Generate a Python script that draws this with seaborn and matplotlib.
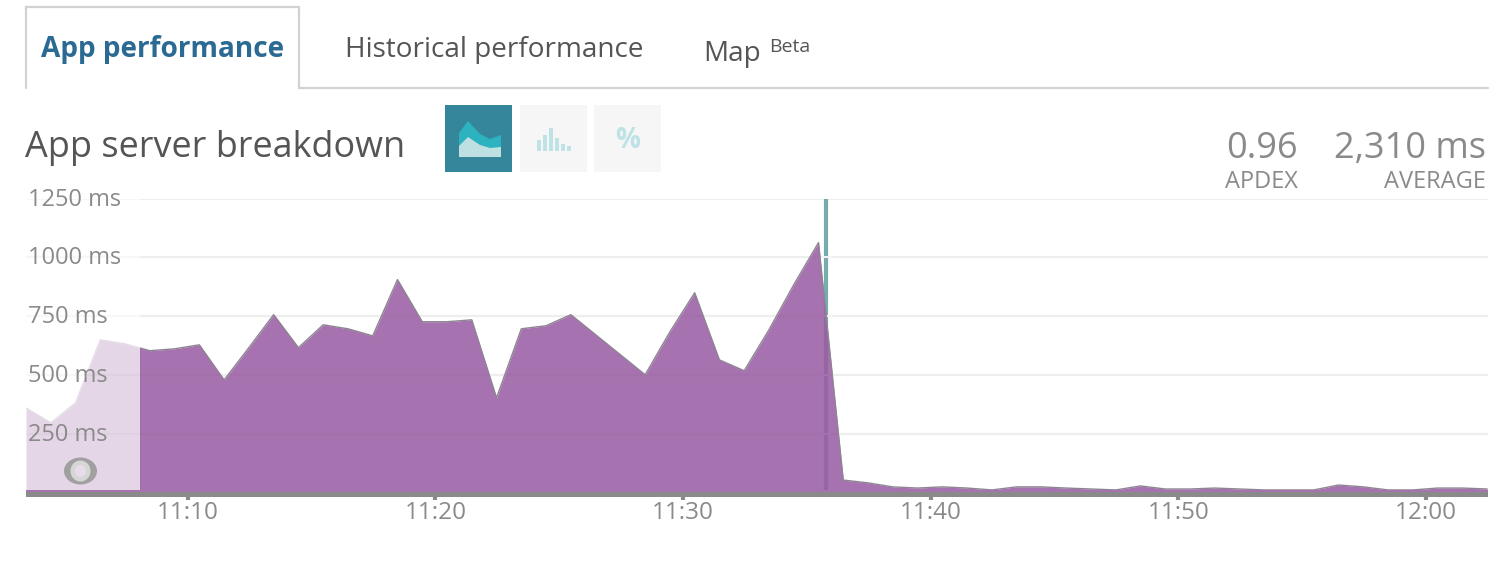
import matplotlib
matplotlib.use('Agg')
import matplotlib.dates as mdates
import matplotlib.pyplot as plt
import pandas as pd
import seaborn as sns
from matplotlib.patches import Ellipse, Polygon, Rectangle
from matplotlib.transforms import ScaledTranslation

# Values, one sample per minute
ms_values = [361, 298, 383, 650, 633, 604, 612, 629, 480, 617,
             757, 617, 714, 697, 667, 906, 727, 727, 735, 404,
             697, 710, 757, 672, 587, 502, 684, 850, 565, 519,
             693, 884, 1063, 55, 43, 26, 21, 26, 21, 13,
             26, 26, 21, 17, 13, 30, 17, 17, 21, 17,
             13, 13, 13, 34, 26, 13, 13, 21, 21, 17]
y_ticks = [250, 500, 750, 1000, 1250]
y_labels = ['250 ms', '500 ms', '750 ms', '1000 ms', '1250 ms']
x_ticks = ['11:10', '11:20', '11:30', '11:40', '11:50', '12:00']
tabs = ['App performance', 'Historical performance', 'Map']
icon_bars = [11, 16, 23, 13, 7, 5]

W, H = 1512, 564
PURPLE = '#995DA3'
GREY = '#8A8A8A'
TEXT = '#555555'

sns.set_theme(style='white')
plt.rcParams['font.family'] = ['Open Sans', 'DejaVu Sans']

times = pd.date_range('2020-01-01 11:03:28', periods=len(ms_values), freq='min')
df = pd.DataFrame({'time': times, 'ms': ms_values})

fig = plt.figure(figsize=(W / 100, H / 100), dpi=100)
left, right, top, bottom = 26, 1488, 198.5, 493
ax = fig.add_axes([left / W, 1 - bottom / H, (right - left) / W, (bottom - top) / H])

# Selected window and the marker
t_sel = mdates.date2num(pd.Timestamp('2020-01-01 11:08:05'))
t_mark = pd.Timestamp('2020-01-01 11:35:45')
t0 = mdates.date2num(times[0])
t_end = mdates.date2num(pd.Timestamp('2020-01-01 12:02:30'))

# Grid sits under the translucent area, washed out left of the selection
ax.hlines(y_ticks, t0, t_sel, color='#F7F7F7', lw=1.6, zorder=0.6)
ax.hlines(y_ticks, t_sel, t_end, color='#EEEEEE', lw=1.6, zorder=0.6)

ax.vlines(t_mark, 8, 1250, color='#76ACAD', lw=3, zorder=0.8)
for v in [250, 500, 750, 1000]:
    ax.plot([t_mark - pd.Timedelta(seconds=15), t_mark + pd.Timedelta(seconds=15)], [v, v],
            color='#F4F4F4', lw=1.4, zorder=0.9)

light = ax.fill_between(df['time'], df['ms'], 0, color=PURPLE, alpha=0.25, lw=0, zorder=1)
dark = ax.fill_between(df['time'], df['ms'], 0, color=PURPLE, alpha=0.87, lw=0, zorder=1)
light.set_clip_path(Rectangle((t0, 0), t_sel - t0, 1300, transform=ax.transData))
dark.set_clip_path(Rectangle((t_sel, 0), t_end - t_sel, 1300, transform=ax.transData))

sns.lineplot(data=df, x='time', y='ms', ax=ax, color='#8F8494', lw=1.0, zorder=2, estimator=None)
ax.lines[-1].set_clip_path(Rectangle((t_sel, 0), t_end - t_sel, 1300, transform=ax.transData))
sns.lineplot(data=df, x='time', y='ms', ax=ax, color='#E4DDE6', lw=1.0, zorder=2, estimator=None)
ax.lines[-1].set_clip_path(Rectangle((t0, 0), t_sel - t0, 1300, transform=ax.transData))

ax.set_xlim(t0, t_end)
ax.set_ylim(0, 1250)
ax.set_xlabel('')
ax.set_ylabel('')

ax.set_xticks([mdates.date2num(pd.Timestamp('2020-01-01 ' + t)) for t in x_ticks], x_ticks)
ax.set_yticks(y_ticks, y_labels)
ax.tick_params(axis='x', length=5, width=3, color=GREY, labelcolor=GREY, labelsize=17.5, pad=1, bottom=True)
ax.tick_params(axis='y', length=0, labelcolor=GREY, labelsize=17, pad=-1.5)
nudge = ScaledTranslation(0, 2 / 100, fig.dpi_scale_trans)
for lab in ax.get_yticklabels():
    lab.set_ha('left')
    lab.set_transform(lab.get_transform() + nudge)
ax.yaxis.set_zorder(5)
ax.xaxis.set_zorder(5)
sns.despine(ax=ax, left=True, right=True, top=True, bottom=True)

# Page chrome, drawn in pixel coordinates
ui = fig.add_axes([0, 0, 1, 1], zorder=10)
ui.set_xlim(0, W)
ui.set_ylim(H, 0)
ui.axis('off')
ui.patch.set_alpha(0)

# baseline band
ui.add_patch(Rectangle((26, 490), 1462, 2.5, color='#A672AF', lw=0))
ui.add_patch(Rectangle((26, 492), 1462, 4.5, color=GREY, lw=0))

# brush handle
ui.add_patch(Ellipse((80.5, 471), 33, 27, color='#A0A0A0', lw=0))
ui.add_patch(Ellipse((80.5, 471), 20, 21, color='#D6D6D6', lw=0))
ui.add_patch(Ellipse((80.5, 471), 11, 12, color='#E6DCEA', lw=0))

# tab outline
ui.plot([26, 26, 299, 299], [88, 7, 7, 88], color='#D2D2D2', lw=1.6, solid_joinstyle='miter')
ui.plot([299, 1488], [88, 88], color='#D2D2D2', lw=1.6)

ui.text(41, 49.5, tabs[0], color='#2A6A93', fontsize=20.15, fontweight='bold', va='center', ha='left')
ui.text(345, 49.5, tabs[1], color=TEXT, fontsize=20.05, va='center', ha='left')
ui.text(703.5, 53.5, tabs[2], color=TEXT, fontsize=20.05, va='center', ha='left')
ui.text(769, 47, 'Beta', color=TEXT, fontsize=14, va='center', ha='left')

ui.text(25, 148, 'App server breakdown', color=TEXT, fontsize=25.9, va='center', ha='left')

# view buttons
ui.add_patch(Rectangle((445, 105), 67, 67, color='#35869B', lw=0))
ui.add_patch(Rectangle((520, 105), 67, 67, color='#F6F6F6', lw=0))
ui.add_patch(Rectangle((594, 105), 67, 67, color='#F6F6F6', lw=0))
ui.add_patch(Polygon([(459, 157), (459, 133), (468, 121), (480, 134), (490, 139), (501, 135), (501, 157)],
                     color='#2DB3BF', lw=0))
ui.add_patch(Polygon([(459, 157), (459, 146), (468, 137), (480, 145), (490, 148), (501, 147), (501, 157)],
                     color='#BFE0E3', lw=0))
for x, h in zip([537, 543, 549, 555, 561, 567], icon_bars):
    ui.add_patch(Rectangle((x, 151 - h), 4, h, color='#BFE2E6', lw=0))
ui.text(628, 140, '%', color='#BFE2E6', fontsize=20, fontweight='bold', va='center', ha='center')

# summary numbers
ui.text(1298, 149, '0.96', color=GREY, fontsize=26, va='center', ha='right')
ui.text(1486, 149, '2,310 ms', color=GREY, fontsize=26, va='center', ha='right')
ui.text(1298, 182, 'APDEX', color=GREY, fontsize=17, va='center', ha='right')
ui.text(1486, 182, 'AVERAGE', color=GREY, fontsize=17, va='center', ha='right')

plt.savefig('out.png', dpi=100)
